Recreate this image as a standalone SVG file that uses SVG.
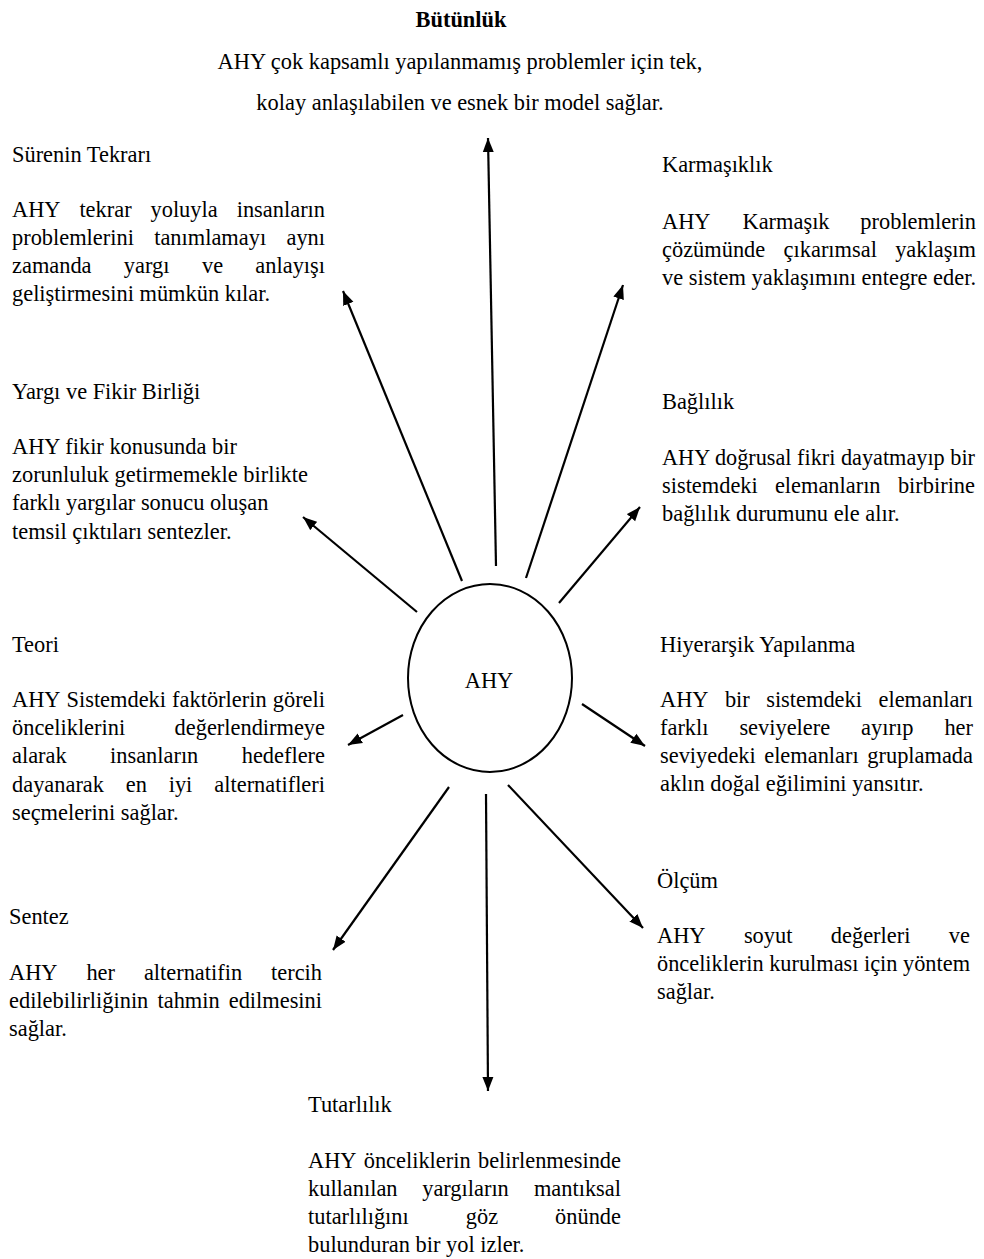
<svg xmlns="http://www.w3.org/2000/svg" width="984" height="1259" viewBox="0 0 984 1259">
  <defs>
    <style>
      .t { font-family: "Liberation Serif", "Times New Roman", serif; font-size: 22.4px; fill: #000; }
      .b { font-weight: bold; }
      .e { text-anchor: end; }
      .c { text-anchor: middle; }
      .hub { fill: #fff; stroke: #000; stroke-width: 2; }
      .link { stroke: #000; stroke-width: 2.2; fill: none; marker-end: url(#head); }
    </style>
    <marker id="head" markerUnits="userSpaceOnUse" markerWidth="16" markerHeight="12" refX="14" refY="6" orient="auto">
      <path d="M0,0.5 L14,6 L0,11.5 Z" fill="#000"/>
    </marker>
  </defs>
  <rect width="984" height="1259" fill="#fff"/>

  <!-- arrows radiating from the central node -->
  <g id="connectors">
    <line class="link" x1="496" y1="566" x2="488" y2="138"/>
    <line class="link" x1="462" y1="581" x2="343" y2="291"/>
    <line class="link" x1="526" y1="578" x2="623" y2="285"/>
    <line class="link" x1="417" y1="612" x2="303" y2="517"/>
    <line class="link" x1="559" y1="603" x2="640" y2="507"/>
    <line class="link" x1="403" y1="715" x2="348" y2="745"/>
    <line class="link" x1="582" y1="704" x2="645" y2="746"/>
    <line class="link" x1="449" y1="787" x2="333" y2="950"/>
    <line class="link" x1="486" y1="794" x2="488" y2="1091"/>
    <line class="link" x1="508" y1="785" x2="643" y2="928"/>
  </g>

  <!-- central node -->
  <g id="ahy">
    <ellipse class="hub" cx="490" cy="678" rx="82" ry="94"/>
    <text class="t c" x="489" y="688">AHY</text>
  </g>

  <g id="butunluk">
    <text class="t b c" x="461" y="27">Bütünlük</text>
    <text class="t c" x="460" y="69">AHY çok kapsamlı yapılanmamış problemler için tek,</text>
    <text class="t c" x="460" y="110">kolay anlaşılabilen ve esnek bir model sağlar.</text>
  </g>

  <g id="surenin-tekrari">
    <text class="t" x="12" y="162">Sürenin Tekrarı</text>
    <text class="t" y="217"><tspan x="12">AHY</tspan><tspan x="79.4">tekrar</tspan><tspan x="150.5">yoluyla</tspan><tspan class="e" x="325">insanların</tspan></text>
    <text class="t" y="245"><tspan x="12">problemlerini</tspan><tspan x="154.2">tanımlamayı</tspan><tspan class="e" x="325">aynı</tspan></text>
    <text class="t" y="273"><tspan x="12">zamanda</tspan><tspan x="123.8">yargı</tspan><tspan x="202">ve</tspan><tspan class="e" x="325">anlayışı</tspan></text>
    <text class="t" x="12" y="301">geliştirmesini mümkün kılar.</text>
  </g>

  <g id="karmasiklik">
    <text class="t" x="662" y="172">Karmaşıklık</text>
    <text class="t" y="229"><tspan x="662">AHY</tspan><tspan x="742.5">Karmaşık</tspan><tspan class="e" x="976">problemlerin</tspan></text>
    <text class="t" y="257"><tspan x="662">çözümünde</tspan><tspan x="783.6">çıkarımsal</tspan><tspan class="e" x="976">yaklaşım</tspan></text>
    <text class="t" x="662" y="285">ve sistem yaklaşımını entegre eder.</text>
  </g>

  <g id="yargi-fikir-birligi">
    <text class="t" x="12" y="399">Yargı ve Fikir Birliği</text>
    <text class="t" x="12" y="454">AHY fikir konusunda bir</text>
    <text class="t" x="12" y="482">zorunluluk getirmemekle birlikte</text>
    <text class="t" x="12" y="510">farklı yargılar sonucu oluşan</text>
    <text class="t" x="12" y="539">temsil çıktıları sentezler.</text>
  </g>

  <g id="baglilik">
    <text class="t" x="662" y="409">Bağlılık</text>
    <text class="t" x="662" y="465" textLength="313" lengthAdjust="spacingAndGlyphs">AHY doğrusal fikri dayatmayıp bir</text>
    <text class="t" y="493"><tspan x="662">sistemdeki</tspan><tspan x="774.9">elemanların</tspan><tspan class="e" x="975">birbirine</tspan></text>
    <text class="t" x="662" y="521">bağlılık durumunu ele alır.</text>
  </g>

  <g id="teori">
    <text class="t" x="12" y="652">Teori</text>
    <text class="t" y="707"><tspan x="12">AHY</tspan><tspan x="66.5">Sistemdeki</tspan><tspan x="172.1">faktörlerin</tspan><tspan class="e" x="325">göreli</tspan></text>
    <text class="t" y="735"><tspan x="12">önceliklerini</tspan><tspan class="e" x="325">değerlendirmeye</tspan></text>
    <text class="t" y="763"><tspan x="12">alarak</tspan><tspan x="110">insanların</tspan><tspan class="e" x="325">hedeflere</tspan></text>
    <text class="t" y="792"><tspan x="12">dayanarak</tspan><tspan x="125.8">en</tspan><tspan x="168.7">iyi</tspan><tspan class="e" x="325">alternatifleri</tspan></text>
    <text class="t" x="12" y="820">seçmelerini sağlar.</text>
  </g>

  <g id="hiyerarsik-yapilanma">
    <text class="t" x="660" y="652">Hiyerarşik Yapılanma</text>
    <text class="t" y="707"><tspan x="660">AHY</tspan><tspan x="724.9">bir</tspan><tspan x="766.2">sistemdeki</tspan><tspan class="e" x="973">elemanları</tspan></text>
    <text class="t" y="735"><tspan x="660">farklı</tspan><tspan x="739.4">seviyelere</tspan><tspan x="861.1">ayırıp</tspan><tspan class="e" x="973">her</tspan></text>
    <text class="t" y="763"><tspan x="660">seviyedeki</tspan><tspan x="764.2">elemanları</tspan><tspan class="e" x="973">gruplamada</tspan></text>
    <text class="t" x="660" y="791">aklın doğal eğilimini yansıtır.</text>
  </g>

  <g id="olcum">
    <text class="t" x="657" y="888">Ölçüm</text>
    <text class="t" y="943"><tspan x="657">AHY</tspan><tspan x="743.9">soyut</tspan><tspan x="830.8">değerleri</tspan><tspan class="e" x="970">ve</tspan></text>
    <text class="t" x="657" y="971" textLength="313" lengthAdjust="spacingAndGlyphs">önceliklerin kurulması için yöntem</text>
    <text class="t" x="657" y="999">sağlar.</text>
  </g>

  <g id="sentez">
    <text class="t" x="9" y="924">Sentez</text>
    <text class="t" y="980"><tspan x="9">AHY</tspan><tspan x="86.4">her</tspan><tspan x="143.9">alternatifin</tspan><tspan class="e" x="322">tercih</tspan></text>
    <text class="t" y="1008"><tspan x="9">edilebilirliğinin</tspan><tspan x="157.5">tahmin</tspan><tspan class="e" x="322">edilmesini</tspan></text>
    <text class="t" x="9" y="1036">sağlar.</text>
  </g>

  <g id="tutarlilik">
    <text class="t" x="308" y="1112">Tutarlılık</text>
    <text class="t" y="1168"><tspan x="308">AHY</tspan><tspan x="363.7">önceliklerin</tspan><tspan class="e" x="621">belirlenmesinde</tspan></text>
    <text class="t" y="1196"><tspan x="308">kullanılan</tspan><tspan x="422.2">yargıların</tspan><tspan class="e" x="621">mantıksal</tspan></text>
    <text class="t" y="1224"><tspan x="308">tutarlılığını</tspan><tspan x="465.8">göz</tspan><tspan class="e" x="621">önünde</tspan></text>
    <text class="t" x="308" y="1252">bulunduran bir yol izler.</text>
  </g>
</svg>
